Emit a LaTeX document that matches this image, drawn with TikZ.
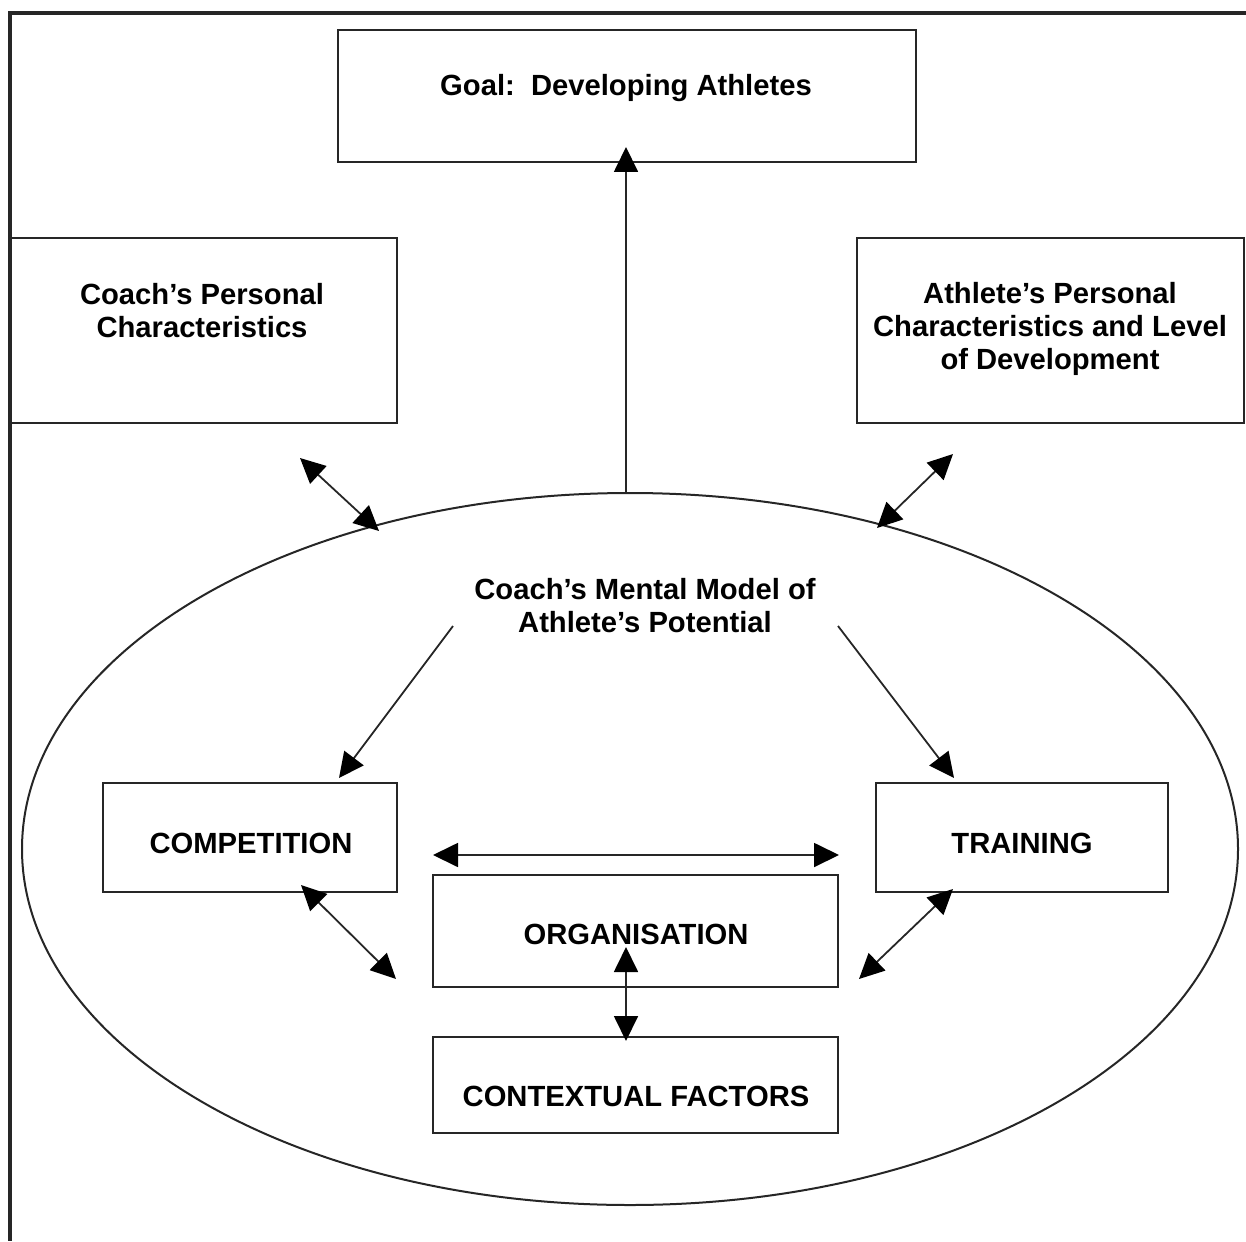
\documentclass[tikz,border=0pt]{standalone}
\usepackage{fontspec}
\setmainfont{Liberation Sans}
\usetikzlibrary{arrows.meta,shapes.geometric}
\definecolor{ink}{HTML}{262626}
\tikzset{
  box/.style={draw=ink, line width=1.1pt, rectangle, inner sep=0pt, align=center,
    font=\fontsize{14.6}{16.5}\selectfont\bfseries},
  label/.style={inner sep=0pt, align=center, font=\fontsize{14.6}{16.5}\selectfont\bfseries},
  link/.style={draw=ink, line width=0.9pt},
  head/.style={Triangle[length=12.5pt,width=12pt,color=black]},
  tip/.style={-{Triangle[length=12.5pt,width=12pt,color=black]}},
  tips/.style={{Triangle[length=12.5pt,width=12pt,color=black]}-{Triangle[length=12.5pt,width=12pt,color=black]}},
}
\begin{document}
\begin{tikzpicture}[x=0.5pt,y=-0.5pt]
\useasboundingbox (0,0) rectangle (1246,1241);
% frame (top and left rules)
\draw[ink, line width=1.8pt] (8,13) -- (1246,13);
\draw[ink, line width=1.8pt] (10,13) -- (10,1241);

% outer boxes
\node[box, minimum width=289pt, minimum height=66pt] (goal) at (627,96) {};
\node[label] (goalt) at (626,88) {Goal:\ \ Developing Athletes};

\node[box, minimum width=193.5pt, minimum height=92.5pt] (coach) at (203.5,330.5) {};
\node[label] (coacht) at (202,311) {Coach’s Personal\\Characteristics};

\node[box, minimum width=193.5pt, minimum height=92.5pt] (athlete) at (1050.5,330.5) {};
\node[label] (athletet) at (1050,329) {Athlete’s Personal\\Characteristics and Level\\of Development};

% mental model ellipse
\node[draw=ink, line width=1pt, ellipse, minimum width=608pt, minimum height=356pt, inner sep=0pt] (model) at (630,849) {};
\node[label] (modelt) at (645,606) {Coach’s Mental Model of\\Athlete’s Potential};

% inner boxes
\node[box, minimum width=147pt, minimum height=54.5pt] (comp) at (250,837.5) {};
\node[label] (compt) at (251,843) {COMPETITION};
\node[box, minimum width=146pt, minimum height=54.5pt] (train) at (1022,837.5) {};
\node[label] (traint) at (1022,843) {TRAINING};
\node[box, minimum width=202.5pt, minimum height=56pt] (org) at (635.5,931) {};
\node[label] (orgt) at (636,934) {ORGANISATION};
\node[box, minimum width=202.5pt, minimum height=48pt] (ctx) at (635.5,1085) {};
\node[label] (ctxt) at (636,1096) {CONTEXTUAL FACTORS};

% connector end points
\coordinate (mtop) at (626,493);
\coordinate (gtip) at (626,147);
\coordinate (c1) at (300,458);
\coordinate (c2) at (379,531);
\coordinate (a1) at (953,454);
\coordinate (a2) at (877,528);
\coordinate (m1) at (453,626);
\coordinate (m2) at (339,778);
\coordinate (m3) at (838,626);
\coordinate (m4) at (954,778);
\coordinate (h1) at (433,855);
\coordinate (h2) at (839,855);
\coordinate (v1) at (626,947);
\coordinate (v2) at (626,1041);
\coordinate (co1) at (301,885);
\coordinate (co2) at (396,979);
\coordinate (tr1) at (953,889);
\coordinate (tr2) at (859,979);

% connectors
\draw[link, tip] (mtop) -- (gtip);
\draw[link, tips] (c1) -- (c2);
\draw[link, tips] (a1) -- (a2);
\draw[link, tip] (m1) -- (m2);
\draw[link, tip] (m3) -- (m4);
\draw[link, tips] (h1) -- (h2);
\draw[link, tips] (v1) -- (v2);
\draw[link, tips] (co1) -- (co2);
\draw[link, tips] (tr1) -- (tr2);
\end{tikzpicture}
\end{document}
